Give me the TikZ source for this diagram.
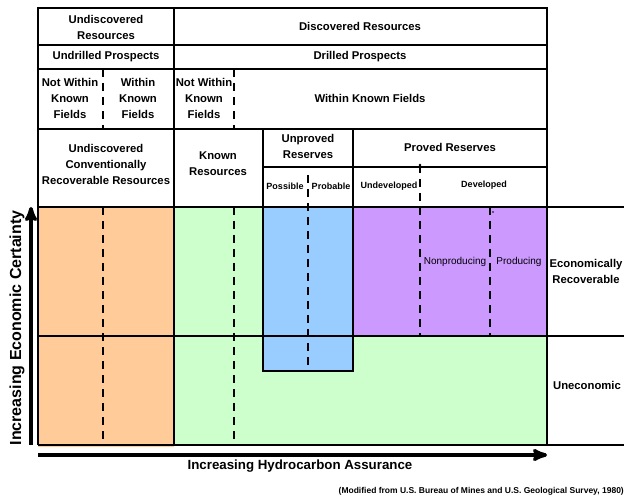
\documentclass[tikz,border=0pt]{standalone}
\usepackage{fontspec}
\setmainfont{Liberation Sans}
\usetikzlibrary{arrows}

\definecolor{undisc}{HTML}{FFCC99}
\definecolor{known}{HTML}{CCFFCC}
\definecolor{unproved}{HTML}{99CCFF}
\definecolor{proved}{HTML}{CC99FF}

\begin{document}
\begin{tikzpicture}[x=1pt,y=-1pt,>=stealth',
  cell/.style={font=\bfseries\fontsize{11.3}{16}\selectfont,align=center,inner sep=0pt},
  small cell/.style={font=\bfseries\fontsize{9}{10}\selectfont,align=center,inner sep=0pt},
  rule/.style={line width=1.8pt},
  dash rule/.style={line width=2.4pt,dash pattern=on 8pt off 6pt}]

  \useasboundingbox (0,0) rectangle (624,497);

  % coloured areas
  \fill[undisc] (38,207) rectangle (174,447);
  \fill[known] (174,207) rectangle (547,445);
  \filldraw[fill=unproved,rule] (263,207) rectangle (353,371);
  \filldraw[fill=proved,rule] (353,207) rectangle (547,336);

  % header table
  \draw[line width=2.4pt] (38,8) rectangle (547,207);
  \foreach \y in {45,69,129}
    \draw[rule] (38,\y) -- (547,\y);
  \draw[rule] (263,167) -- (547,167);
  \draw[rule] (174,8) -- (174,445);
  \draw[rule] (263,129) -- (263,207);
  \draw[rule] (353,129) -- (353,207);

  % lower grid
  \foreach \y in {207,336,445}
    \draw[rule] (38,\y) -- (624,\y);
  \draw[rule] (38,207) -- (38,445);
  \draw[rule] (547,207) -- (547,445);

  % dashed dividers
  \draw[dash rule] (103,69) -- (103,129);
  \draw[dash rule] (234,69) -- (234,129);
  \draw[dash rule] (103,207) -- (103,445);
  \draw[dash rule] (234,207) -- (234,445);
  \draw[dash rule] (308,175) -- (308,371);
  \draw[dash rule] (420,165) -- (420,336);
  \draw[dash rule,line width=1.8pt] (490,207) -- (490,336);
  \fill (420,165) circle (1.3pt);
  \fill (493,212) circle (0.8pt);

  % header labels
  \node[cell] (undisc res) at (106,27) {Undiscovered\\Resources};
  \node[cell] (disc res) at (360,26) {Discovered Resources};
  \node[cell] (undrilled) at (106,57) {Undrilled Prospects};
  \node[cell] (drilled) at (360,57) {Drilled Prospects};
  \node[cell] (nwk1) at (70,98) {Not Within\\Known\\Fields};
  \node[cell] (wk1) at (138,98) {Within\\Known\\Fields};
  \node[cell] (nwk2) at (204,98) {Not Within\\Known\\Fields};
  \node[cell] (wk2) at (370,98) {Within Known Fields};
  \node[cell] (ucrr) at (106,164) {Undiscovered\\Conventionally\\Recoverable Resources};
  \node[cell] (known res) at (218,164) {Known\\Resources};
  \node[cell] (unproved res) at (308,146) {Unproved\\Reserves};
  \node[cell] (proved res) at (450,147) {Proved Reserves};
  \node[small cell] (possible) at (285,186) {Possible};
  \node[small cell] (probable) at (331,186) {Probable};
  \node[small cell] (undev) at (389,186) {Undeveloped};
  \node[small cell] (dev) at (484,185) {Developed};
  \node[small cell,font=\fontsize{10}{11}\selectfont] (nonprod) at (455,262) {Nonproducing};
  \node[small cell,font=\fontsize{10}{11}\selectfont] (prod) at (519,262) {Producing};
  \node[cell] (econ) at (586,271) {Economically\\Recoverable};
  \node[cell] (unecon) at (587,385) {Uneconomic};

  % axes
  \draw[->,line width=3.5pt] (31,445) -- (31,207);
  \draw[->,line width=3.5pt] (38,455) -- (547,455);
  \node[font=\bfseries\fontsize{16}{18}\selectfont,rotate=90] (certainty) at (17,328) {Increasing Economic Certainty};
  \node[font=\bfseries\fontsize{13.3}{16}\selectfont] (assurance) at (300,466) {Increasing Hydrocarbon Assurance};
  \node[font=\bfseries\fontsize{8.5}{9}\selectfont,anchor=east,inner sep=0pt] (source) at (624,491) {(Modified from U.S. Bureau of Mines and U.S. Geological Survey, 1980)};
\end{tikzpicture}
\end{document}
